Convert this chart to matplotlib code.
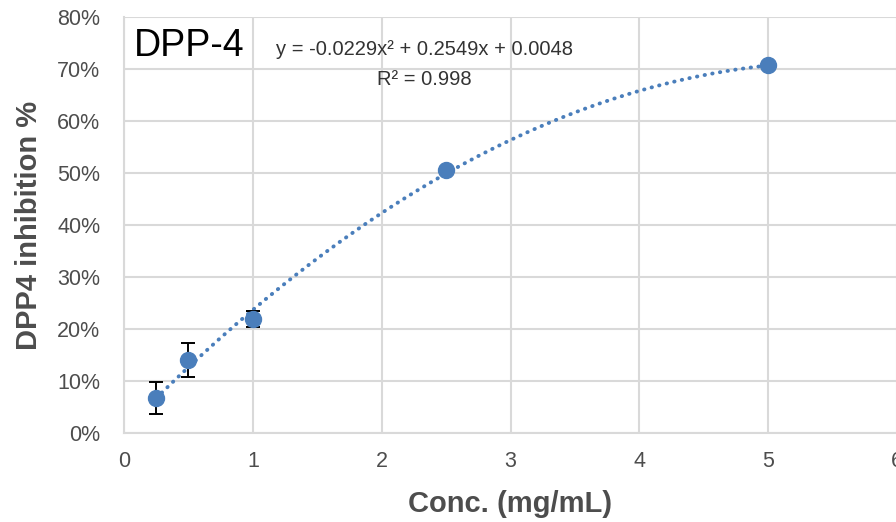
import numpy as np
import matplotlib
matplotlib.use('Agg')
import matplotlib.pyplot as plt
from matplotlib.ticker import PercentFormatter

plt.rcParams['font.family'] = ['Liberation Sans', 'DejaVu Sans']

# measured points
conc = [0.25, 0.5, 1.0, 2.5, 5.0]
inhib = [0.067, 0.140, 0.219, 0.506, 0.707]
err = [0.031, 0.033, 0.016, 0.004, 0.004]

# Excel polynomial trendline (order 2)
coef = [-0.0229, 0.2549, 0.0048]
eq_text = 'y = -0.0229x² + 0.2549x + 0.0048'
r2_text = 'R² = 0.998'

x_ticks = [0, 1, 2, 3, 4, 5, 6]
y_ticks = [0, 0.1, 0.2, 0.3, 0.4, 0.5, 0.6, 0.7, 0.8]

blue = '#4a7ebb'
grid = '#d9d9d9'
txt = '#4d4d4d'

fig = plt.figure(figsize=(8.96, 5.22), dpi=100)
ax = fig.add_axes([124/896, 1 - 433/522, (897 - 124)/896, (433 - 17)/522])

xs = np.linspace(conc[0], conc[-1], 200)
ax.plot(xs, np.polyval(coef, xs), color=blue, lw=2.8, ls=(0, (0.1, 1.9)),
        dash_capstyle='round', zorder=2)
ax.errorbar(conc, inhib, yerr=err, fmt='o', color=blue, ms=11.5,
            ecolor='black', elinewidth=1.4, capsize=5, capthick=1.4, zorder=3)

ax.set_xlim(0, 6)
ax.set_ylim(0, 0.8)
ax.set_xticks(x_ticks)
ax.set_yticks(y_ticks)
ax.yaxis.set_major_formatter(PercentFormatter(xmax=1, decimals=0))
ax.grid(True, color=grid, lw=1.5)
ax.set_axisbelow(True)
for s in ['top', 'right']:
    ax.spines[s].set_visible(False)
for s in ['left', 'bottom']:
    ax.spines[s].set_color(grid)
    ax.spines[s].set_linewidth(1.5)
ax.tick_params(length=0, labelsize=15.5, labelcolor=txt)
ax.tick_params(axis='y', pad=17)
ax.tick_params(axis='x', pad=13)

ax.set_xlabel('Conc. (mg/mL)', fontsize=21, fontweight='bold', color=txt, labelpad=13)
ax.set_ylabel('DPP4 inhibition %', fontsize=21, fontweight='bold', color=txt, labelpad=10)

ax.text(0.08, 0.745, 'DPP-4', fontsize=27, color='black', ha='left', va='center')
ax.text(2.33, 0.738, eq_text, fontsize=14.5, color='#333333', ha='center', va='center')
ax.text(2.33, 0.679, r2_text, fontsize=14.5, color='#333333', ha='center', va='center')

fig.savefig('out.png', dpi=100)
